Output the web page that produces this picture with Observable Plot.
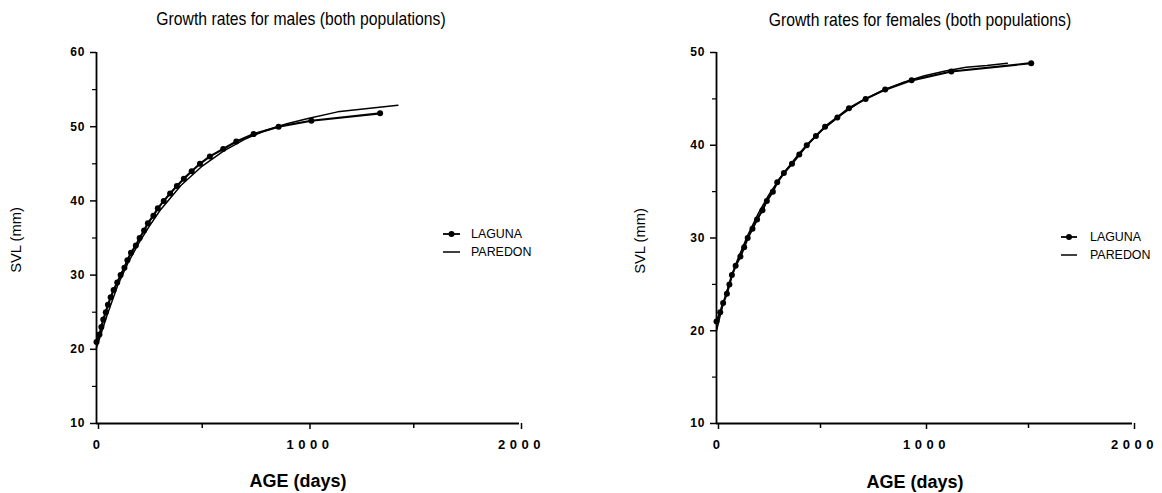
<!DOCTYPE html>
<html><head><meta charset="utf-8">
<script src="https://cdn.jsdelivr.net/npm/d3@7"></script>
<script src="https://cdn.jsdelivr.net/npm/@observablehq/plot@0.6"></script>
<style>
html,body{margin:0;padding:0;background:#fff;}
#wrap{position:relative;width:1162px;height:493px;overflow:hidden;font-family:"Liberation Sans",Arial,sans-serif;color:#000;background:#fff;}
.panel{position:absolute;top:0;}
.title{position:absolute;font-family:"Liberation Sans",sans-serif;font-size:18.5px;white-space:nowrap;transform:translateX(-50%) scaleX(0.85);line-height:1;}
.xlab{position:absolute;font-weight:bold;font-size:18px;white-space:nowrap;transform:translateX(-50%);line-height:1;}
.ylab{position:absolute;font-size:15.5px;white-space:nowrap;transform:translate(-50%,-50%) rotate(-90deg) scaleX(0.95);line-height:1;}
.leg{position:absolute;font-size:13.5px;white-space:nowrap;line-height:1;transform:translateY(-50%) scaleX(0.92);transform-origin:left center;}
.sym{position:absolute;}
.panel text{font-weight:bold;}
g[aria-label="x-axis tick label"] text{letter-spacing:4.5px}
g[aria-label="y-axis tick label"] text{letter-spacing:1px}
</style></head><body><div id="wrap"></div>
<script>
// ---- data ----
const xTicks = [0, 1000, 2000];
const xMinorTicks = [500, 1500];
const xDomain = [0, 2000];

const malesYDomain = [10, 60];
const malesYTicks = [10, 20, 30, 40, 50, 60];
const malesYMinor = [15, 25, 35, 45, 55];
const femalesYDomain = [10, 50];
const femalesYTicks = [10, 20, 30, 40, 50];
const femalesYMinor = [15, 25, 35, 45];

const malesLagunaAge = [0,14,23,32,44,54,67,81,98,114,132,146,163,186,204,225,243,269,290,318,348,380,413,450,489,536,599,661,743,861,1016,1341];
const malesLagunaSVL = [21,22,23,24,25,26,27,28,29,30,31,32,33,34,35,36,37,38,39,40,41,42,43,44,45,46,47,48,49,50,50.8,51.8];
const malesParedonAge = [0,25,50,100,150,200,250,300,400,500,600,700,800,900,1000,1140,1425];
const malesParedonSVL = [20.2,22.4,24.6,28.6,31.7,34.3,36.6,38.7,42.1,44.7,46.7,48.3,49.5,50.4,51.1,52.0,52.9];

const femalesLagunaAge = [0,18,32,50,62,74,92,115,133,150,173,195,221,242,271,292,324,363,398,434,478,522,581,637,717,811,938,1129,1513];
const femalesLagunaSVL = [21,22,23,24,25,26,27,28,29,30,31,32,33,34,35,36,37,38,39,40,41,42,43,44,45,46,47,47.95,48.85];
const femalesParedonAge = [0,25,50,100,150,200,250,300,400,500,600,700,800,900,1000,1100,1200,1300,1398];
const femalesParedonSVL = [20.0,22.3,24.3,27.6,30.3,32.6,34.6,36.3,39.2,41.5,43.3,44.8,45.9,46.8,47.5,48.0,48.4,48.6,48.85];

const seriesNames = ["LAGUNA", "PAREDON"];
const titles = ["Growth rates for males (both populations)", "Growth rates for females (both populations)"];
const xLabel = "AGE (days)";
const yLabel = "SVL (mm)";

// ---- build ----
const toRows = (ages, svl) => ages.map((a, i) => ({age: a, svl: svl[i]}));

function panel(cfg) {
  const lag = toRows(cfg.lagAge, cfg.lagSvl);
  const par = toRows(cfg.parAge, cfg.parSvl);
  return Plot.plot({
    width: 581, height: 493,
    marginLeft: cfg.ml, marginRight: cfg.mr, marginTop: 52, marginBottom: 70,
    x: {domain: xDomain, axis: null},
    y: {domain: cfg.yDomain, axis: null},
    style: {fontFamily: "'Liberation Sans', Arial, sans-serif", fontWeight: "bold", fontSize: "12px", background: "transparent", overflow: "visible", color: "#000"},
    marks: [
      Plot.ruleX([xDomain[0]], {stroke: "#000", strokeWidth: 1.8}),
      Plot.ruleY([cfg.yDomain[0]], {stroke: "#000", strokeWidth: 1.8}),
      Plot.axisY(cfg.yTicks, {anchor: "left", tickSize: 6, tickPadding: 5, label: null, fontSize: 12, tickFormat: d => String(d), strokeWidth: 1.5}),
      Plot.axisY(cfg.yMinor, {anchor: "left", tickSize: 4, tickFormat: () => "", label: null, strokeWidth: 1.2}),
      Plot.axisX(xTicks, {anchor: "bottom", tickSize: 6, tickPadding: 10, label: null, fontSize: 13, tickFormat: d => String(d), dx: 2, strokeWidth: 1.5}),
      Plot.axisX(xMinorTicks, {anchor: "bottom", tickSize: 5, tickFormat: () => "", label: null, strokeWidth: 1.5}),
      Plot.line(par, {x: "age", y: "svl", stroke: "#000", strokeWidth: 1.5}),
      Plot.line(lag, {x: "age", y: "svl", stroke: "#000", strokeWidth: 2.2}),
      Plot.dot(lag, {x: "age", y: "svl", r: 3, fill: "#000", stroke: "none"})
    ]
  });
}

const wrap = document.getElementById("wrap");

const left = panel({lagAge: malesLagunaAge, lagSvl: malesLagunaSVL, parAge: malesParedonAge, parSvl: malesParedonSVL,
  yDomain: malesYDomain, yTicks: malesYTicks, yMinor: malesYMinor, ml: 96, mr: 62});
left.classList.add("panel"); left.style.left = "0px";
wrap.appendChild(left);

const right = panel({lagAge: femalesLagunaAge, lagSvl: femalesLagunaSVL, parAge: femalesParedonAge, parSvl: femalesParedonSVL,
  yDomain: femalesYDomain, yTicks: femalesYTicks, yMinor: femalesYMinor, ml: 135, mr: 30});
right.classList.add("panel"); right.style.left = "581px";
wrap.appendChild(right);

function addDiv(cls, text, x, y) {
  const d = document.createElement("div");
  d.className = cls; d.textContent = text;
  d.style.left = x + "px"; d.style.top = y + "px";
  wrap.appendChild(d);
  return d;
}
// titles
addDiv("title", titles[0], 301, 10);
addDiv("title", titles[1], 920, 11);
// axis labels
addDiv("xlab", xLabel, 298, 472);
addDiv("xlab", xLabel, 915, 473);
addDiv("ylab", yLabel, 16, 240);
addDiv("ylab", yLabel, 640, 241);

// legends
function legend(x0, x1, tx, y1, y2) {
  const s = d3.create("svg").attr("class", "sym").attr("width", 1162).attr("height", 493)
    .style("left", "0px").style("top", "0px").style("position", "absolute");
  s.append("line").attr("x1", x0).attr("x2", x1).attr("y1", y1).attr("y2", y1).attr("stroke", "#000").attr("stroke-width", 1.8);
  s.append("circle").attr("cx", (x0 + x1) / 2).attr("cy", y1).attr("r", 3).attr("fill", "#000");
  s.append("line").attr("x1", x0).attr("x2", x1).attr("y1", y2).attr("y2", y2).attr("stroke", "#000").attr("stroke-width", 1.5);
  wrap.appendChild(s.node());
  addDiv("leg", seriesNames[0], tx, y1);
  addDiv("leg", seriesNames[1], tx, y2);
}
legend(443, 460, 471, 234, 252);
legend(1061, 1077, 1090, 237, 255);
</script></body></html>
